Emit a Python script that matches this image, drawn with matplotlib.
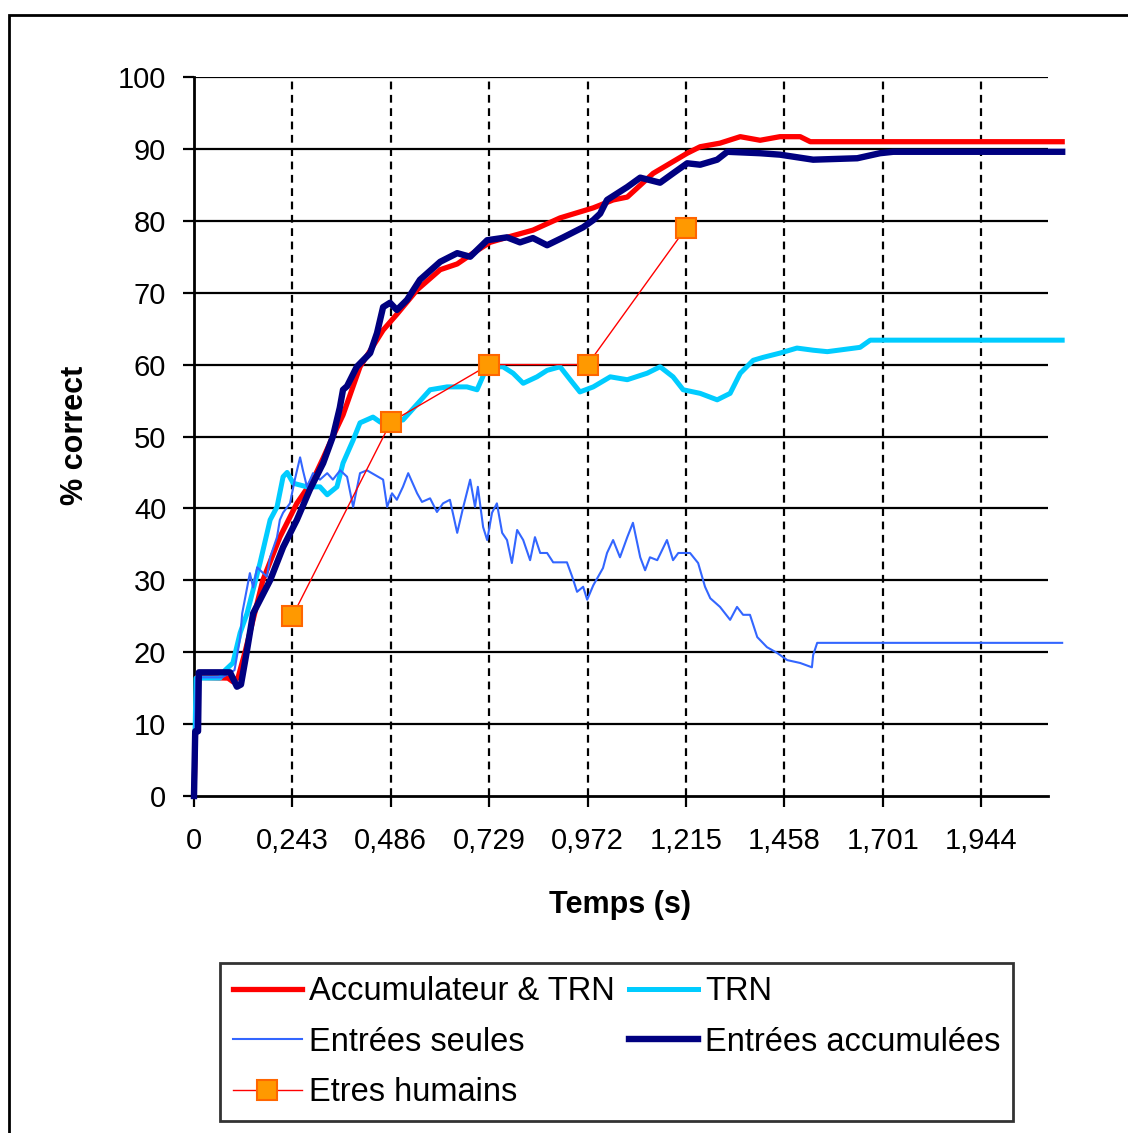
import matplotlib
matplotlib.use('Agg')
import matplotlib.pyplot as plt
from matplotlib.patches import Rectangle

plt.rcParams['font.family'] = ['Liberation Sans', 'DejaVu Sans']

# time (s) / % correct
acc_t = [0, 0.007, 0.084, 0.096, 0.109, 0.126, 0.170, 0.212, 0.254, 0.294, 0.319, 0.343, 0.368,
         0.393, 0.410, 0.467, 0.501, 0.551, 0.608, 0.650, 0.689, 0.731, 0.773, 0.837, 0.904, 0.986,
         1.035, 1.070, 1.134, 1.176, 1.218, 1.250, 1.299, 1.349, 1.398, 1.447, 1.497, 1.522, 2.144]
acc_v = [0, 16.5, 16.4, 15.9, 16.5, 20, 30, 36, 40.7, 44, 47, 50, 53,
         57, 59.7, 64.8, 67, 70.4, 73.2, 74, 75.5, 77, 77.7, 78.7, 80.4, 81.8,
         82.9, 83.3, 86.6, 88, 89.4, 90.3, 90.8, 91.7, 91.2, 91.7, 91.7, 91, 91]

trn_t = [0, 0.005, 0.064, 0.077, 0.096, 0.114, 0.131, 0.163, 0.188, 0.205, 0.220, 0.230, 0.245,
         0.279, 0.311, 0.329, 0.353, 0.368, 0.393, 0.410, 0.442, 0.460, 0.516, 0.583, 0.625, 0.674,
         0.699, 0.724, 0.763, 0.788, 0.813, 0.847, 0.872, 0.904, 0.929, 0.953, 0.986, 1.028, 1.070,
         1.119, 1.151, 1.183, 1.208, 1.250, 1.292, 1.324, 1.349, 1.381, 1.405, 1.447, 1.489, 1.529,
         1.564, 1.645, 1.670, 2.144]
trn_v = [0, 16.4, 16.4, 17.5, 18.5, 22.7, 25.4, 32.4, 38.4, 40.2, 44.4, 45, 43.5,
         43, 43, 41.9, 43, 46.3, 49.5, 51.9, 52.7, 52, 52.3, 56.5, 56.9, 56.9,
         56.5, 59.7, 59.7, 58.8, 57.4, 58.3, 59.2, 59.7, 57.9, 56.2, 56.9, 58.3, 57.9,
         58.8, 59.7, 58.3, 56.5, 56, 55.1, 56, 58.8, 60.6, 61, 61.6, 62.3, 62,
         61.8, 62.4, 63.4, 63.4]

seul_t = [0, 0.005, 0.07, 0.10, 0.114, 0.119, 0.138, 0.146, 0.156, 0.180, 0.188, 0.205, 0.212,
          0.220, 0.237, 0.249, 0.262, 0.269, 0.279, 0.294, 0.311, 0.329, 0.343, 0.361, 0.378,
          0.393, 0.410, 0.427, 0.467, 0.477, 0.489, 0.501, 0.516, 0.529, 0.551, 0.563, 0.583,
          0.600, 0.615, 0.632, 0.650, 0.665, 0.682, 0.694, 0.701, 0.714, 0.724, 0.736, 0.748,
          0.761, 0.773, 0.785, 0.798, 0.813, 0.830, 0.842, 0.855, 0.872, 0.887, 0.921, 0.934,
          0.946, 0.961, 0.971, 0.986, 0.998, 1.010, 1.020, 1.035, 1.052, 1.070, 1.084, 1.102,
          1.114, 1.126, 1.144, 1.156, 1.168, 1.183, 1.196, 1.225, 1.245, 1.262, 1.275, 1.299,
          1.324, 1.341, 1.356, 1.373, 1.391, 1.415, 1.440, 1.465, 1.497, 1.526, 1.529, 1.539, 2.144]
seul_v = [0, 16.5, 16.5, 17.5, 22, 25.4, 31, 29, 31.8, 30.5, 33.2, 36, 38.4,
          39.4, 40.7, 44, 47.1, 45.3, 43, 44.9, 44, 44.9, 44, 45.3, 44.4,
          40.2, 44.9, 45.3, 44, 40.2, 42.1, 41.2, 43, 44.9, 42.1, 40.9, 41.4,
          39.5, 40.7, 41.2, 36.6, 40.2, 44, 40.2, 43, 37.4, 35.6, 39.4, 40.7,
          36.6, 35.6, 32.4, 37, 35.6, 32.8, 36, 33.8, 33.8, 32.5, 32.5, 30.5,
          28.4, 29.1, 27.3, 29.3, 30.5, 31.7, 33.8, 35.6, 33.2, 36, 38, 33.2,
          31.4, 33.2, 32.8, 34.2, 35.6, 32.8, 33.8, 33.8, 32.4, 29.1, 27.5, 26.3,
          24.5, 26.3, 25.2, 25.2, 22.1, 20.7, 19.9, 18.9, 18.5, 17.9, 19.6, 21.3, 21.3]

cumul_t = [0, 0.003, 0.010, 0.012, 0.089, 0.106, 0.116, 0.131, 0.146, 0.188, 0.220, 0.254, 0.286,
           0.319, 0.343, 0.360, 0.368, 0.378, 0.402, 0.435, 0.452, 0.467, 0.484, 0.501, 0.526,
           0.558, 0.608, 0.650, 0.682, 0.724, 0.773, 0.805, 0.837, 0.872, 0.912, 0.961, 0.986,
           1.003, 1.020, 1.070, 1.102, 1.151, 1.183, 1.218, 1.250, 1.292, 1.317, 1.398, 1.447,
           1.529, 1.638, 1.694, 1.727, 2.144]
cumul_v = [0, 9, 9, 17.2, 17.2, 15.2, 15.5, 20.3, 25.4, 30, 34.6, 38.4, 42.6,
           46.3, 50, 54, 56.5, 57, 59.7, 61.6, 64.4, 68, 68.6, 67.6, 69,
           71.8, 74.3, 75.5, 75, 77.3, 77.7, 77, 77.6, 76.6, 77.7, 79.1, 80.1,
           81, 82.9, 84.7, 86, 85.3, 86.6, 88, 87.8, 88.5, 89.6, 89.4, 89.2,
           88.5, 88.7, 89.4, 89.6, 89.6]

hum_t = [0.243, 0.486, 0.729, 0.972, 1.215]
hum_v = [25, 52, 60, 60, 79]

xticks = [0, 0.243, 0.486, 0.729, 0.972, 1.215, 1.458, 1.701, 1.944]
xlabels = ['0', '0,243', '0,486', '0,729', '0,972', '1,215', '1,458', '1,701', '1,944']
yticks = list(range(0, 101, 10))

fig = plt.figure(figsize=(11.28, 11.33), dpi=100)
ax = fig.add_axes([194 / 1128, 1 - 796 / 1133, (1048 - 194) / 1128, (796 - 77) / 1133])

# grid: solid horizontal, dashed vertical
for y in yticks[1:]:
    ax.axhline(y, color='black', lw=1.6, zorder=1)
for x in xticks[1:]:
    ax.axvline(x, color='black', lw=1.6, ls=(0, (3.5, 2.5)), zorder=1)

l1, = ax.plot(acc_t, acc_v, color='#FF0000', lw=3.8, zorder=3, clip_on=False,
              label='Accumulateur & TRN')
l2, = ax.plot(trn_t, trn_v, color='#00CCFF', lw=3.6, zorder=4, clip_on=False, label='TRN')
l3, = ax.plot(seul_t, seul_v, color='#3366FF', lw=1.5, zorder=5, clip_on=False,
              label='Entrées seules')
l4, = ax.plot(cumul_t, cumul_v, color='#000080', lw=4.6, zorder=6, clip_on=False,
              label='Entrées accumulées')
l5, = ax.plot(hum_t, hum_v, color='#FF0000', lw=1.0, marker='s', ms=15,
              mfc='#FF9900', mec='#FF6600', mew=1.5, zorder=7, label='Etres humains')

ax.set_xlim(0, 2.109)
ax.set_ylim(0, 100)
ax.set_xticks(xticks)
ax.set_xticklabels(xlabels)
ax.set_yticks(yticks)
ax.set_yticklabels([str(y) for y in yticks])
ax.tick_params(axis='both', direction='out', length=8, width=1.6, labelsize=21, colors='black')
ax.tick_params(axis='x', pad=14)
ax.tick_params(axis='y', pad=12)
for s in ['top', 'right']:
    ax.spines[s].set_visible(False)
for s in ['left', 'bottom']:
    ax.spines[s].set_linewidth(2)

fig.text(620 / 1128, 1 - 905 / 1133, 'Temps (s)', ha='center', va='center',
         fontsize=22, fontweight='bold')
fig.text(75 / 1128, 1 - 435 / 1133, '% correct', ha='center', va='center',
         rotation=90, fontsize=22, fontweight='bold')

leg = fig.legend([l1, l3, l5, l2, l4],
                 [l1.get_label(), l3.get_label(), l5.get_label(), l2.get_label(), l4.get_label()],
                 ncol=2, loc='upper left', bbox_to_anchor=(220 / 1128, 1 - 963 / 1133),
                 fontsize=23.5, frameon=True, fancybox=False, edgecolor='black',
                 handlelength=2.1, handletextpad=0.22, columnspacing=0.45,
                 labelspacing=0.6, borderpad=0.4, borderaxespad=0)
leg.get_frame().set_linewidth(2)

# outer chart border
fig.patches.append(Rectangle((9 / 1128, -0.05), 1.1, 1 - 15 / 1133 + 0.05,
                             transform=fig.transFigure, fill=False, lw=2, ec='black'))

plt.savefig('out.png', dpi=100)
